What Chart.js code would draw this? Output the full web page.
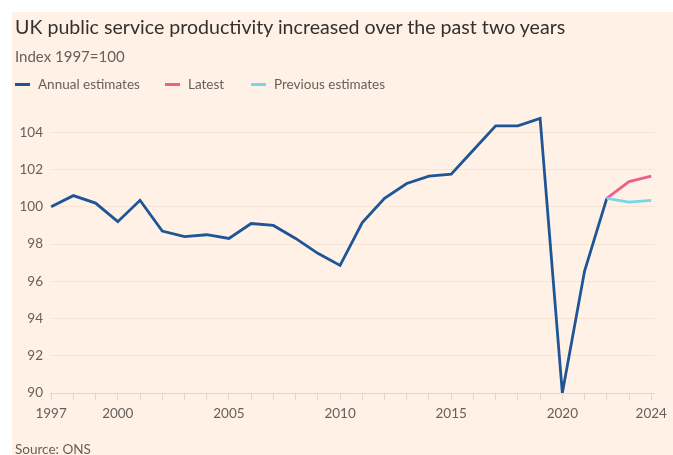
<!DOCTYPE html>
<html>
<head>
<meta charset="utf-8">
<script src="https://cdn.jsdelivr.net/npm/chart.js@4"></script>
<style>
  html, body { margin: 0; padding: 0; background: #fff; }
  body { width: 673px; height: 455px; position: relative; overflow: hidden; font-family: Lato, "Open Sans", sans-serif; }
  #panel { position: absolute; left: 12px; top: 12px; width: 661px; height: 443px; background: #fff1e5; }
  #chartWrap { position: absolute; left: 0; top: 0; width: 661px; height: 443px; }
  .title { position: absolute; left: 3px; top: 3px; font-size: 19.6px; color: #33302e; white-space: nowrap; }
  .subtitle { position: absolute; left: 3px; top: 35px; font-size: 15px; color: #66605c; white-space: nowrap; }
  .legend { position: absolute; left: 3px; top: 64px; font-size: 13.5px; color: #66605c; white-space: nowrap; }
  .legend span.item { position: absolute; top: 0; }
  .legend i { display: inline-block; width: 15px; height: 3px; vertical-align: middle; margin-right: 8px; position: relative; top: -1px; }
  .source { position: absolute; left: 3px; top: 429px; font-size: 13.5px; color: #66605c; white-space: nowrap; }
</style>
</head>
<body>
<div id="panel">
  <div id="chartWrap"><canvas id="chart" width="661" height="443"></canvas></div>
  <div class="title">UK public service productivity increased over the past two years</div>
  <div class="subtitle">Index 1997=100</div>
  <div class="legend">
    <span class="item" style="left:0px"><i style="background:#1e5597"></i>Annual estimates</span>
    <span class="item" style="left:150px"><i style="background:#e9618c"></i>Latest</span>
    <span class="item" style="left:236px"><i style="background:#77d6e8"></i>Previous estimates</span>
  </div>
  <div class="source">Source: ONS</div>
</div>
<script>
const annualYears = [1997, 1998, 1999, 2000, 2001, 2002, 2003, 2004, 2005, 2006, 2007, 2008, 2009,
  2010, 2011, 2012, 2013, 2014, 2015, 2016, 2017, 2018, 2019, 2020, 2021, 2022];
const annualValues = [100, 100.6, 100.2, 99.2, 100.35, 98.7, 98.4, 98.5, 98.3, 99.1, 99.0, 98.3, 97.5,
  96.85, 99.15, 100.45, 101.25, 101.65, 101.75, 103.05, 104.35, 104.35, 104.75, 90.0, 96.55, 100.45];

const recentYears = [2022, 2023, 2024];
const latestValues = [100.45, 101.35, 101.65];
const previousValues = [100.45, 100.25, 100.35];

const yTicks = [90, 92, 94, 96, 98, 100, 102, 104];
const xLabelYears = [1997, 2000, 2005, 2010, 2015, 2020, 2024];

const toPoints = (xs, ys) => xs.map((x, i) => ({ x: x, y: ys[i] }));

const tickFont = { family: "Lato, 'Open Sans', sans-serif", size: 13.5 };

new Chart(document.getElementById("chart"), {
    type: "line",
    data: {
        datasets: [
            {
                label: "Previous estimates",
                data: toPoints(recentYears, previousValues),
                borderColor: "#77d6e8",
                borderWidth: 2.8,
                pointRadius: 0,
                tension: 0
            },
            {
                label: "Latest",
                data: toPoints(recentYears, latestValues),
                borderColor: "#e9618c",
                borderWidth: 2.8,
                pointRadius: 0,
                tension: 0
            },
            {
                label: "Annual estimates",
                data: toPoints(annualYears, annualValues),
                borderColor: "#1e5597",
                borderWidth: 2.8,
                pointRadius: 0,
                tension: 0
            }
        ]
    },
    options: {
        responsive: false,
        animation: false,
        events: [],
        layout: { padding: { top: 101.7, right: 17, bottom: 30, left: 0 } },
        plugins: {
            legend: { display: false },
            tooltip: { enabled: false }
        },
        scales: {
            x: {
                type: "linear",
                min: 1996.95,
                max: 2024.15,
                afterBuildTicks: axis => {
                    const t = [];
                    for (let y = 1997; y <= 2024; y++) t.push({ value: y });
                    axis.ticks = t;
                },
                afterFit: axis => { axis.height = 32; },
                border: { display: false },
                grid: {
                    drawOnChartArea: false,
                    drawTicks: true,
                    tickLength: 7,
                    color: "#e3d6cb"
                },
                ticks: {
                    autoSkip: false,
                    maxRotation: 0,
                    padding: 6,
                    color: "#66605c",
                    font: tickFont,
                    callback: v => xLabelYears.includes(v) ? String(v) : ""
                }
            },
            y: {
                min: 90,
                max: 105,
                afterBuildTicks: axis => { axis.ticks = yTicks.map(v => ({ value: v })); },
                afterFit: axis => { axis.width = 38; },
                border: { display: false },
                grid: {
                    drawTicks: false,
                    color: ctx => ctx.tick && ctx.tick.value === 90 ? "#e3d6cb" : "#f6e4d5",
                    lineWidth: 1
                },
                ticks: {
                    padding: 7,
                    color: "#66605c",
                    font: tickFont
                }
            }
        }
    }
});
</script>
</body>
</html>
